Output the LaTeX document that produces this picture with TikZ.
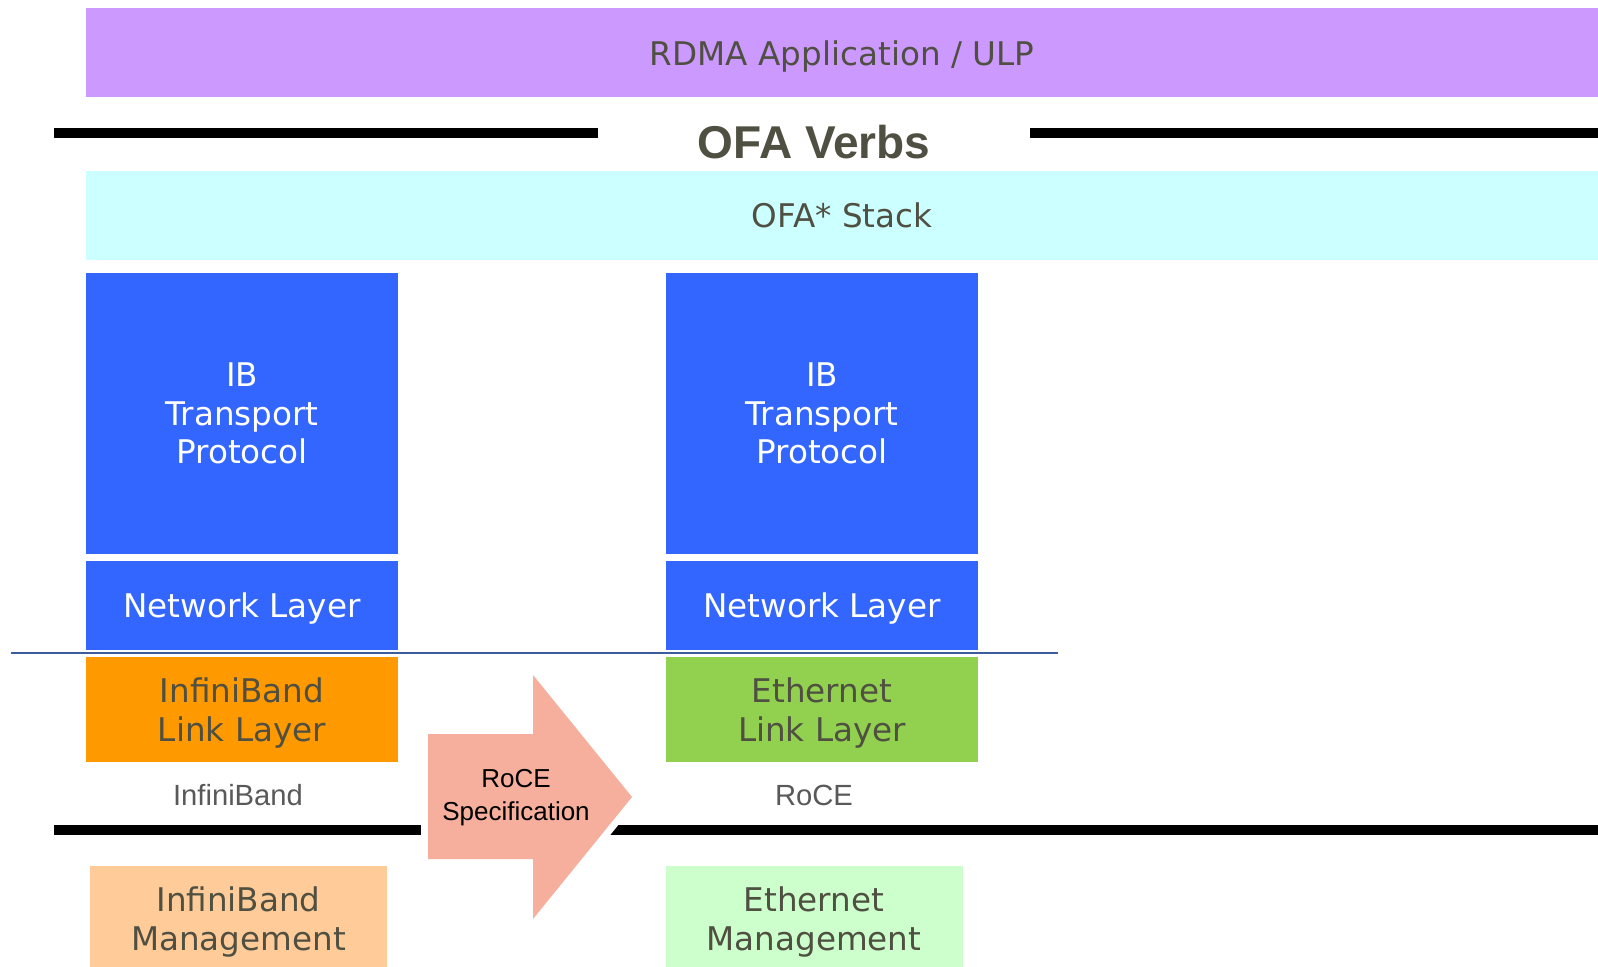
\documentclass[tikz,border=0pt]{standalone}
\usepackage{fontspec}
\usepackage{xcolor}
\usepackage{tikz}
\usetikzlibrary{positioning}

\setmainfont{DejaVu Sans}
\newfontfamily\arialfont{Liberation Sans}

\definecolor{ulpcol}{HTML}{CC99FF}
\definecolor{stackcol}{HTML}{CCFFFF}
\definecolor{ibblue}{HTML}{3366FF}
\definecolor{iblinkcol}{HTML}{FF9900}
\definecolor{ethlinkcol}{HTML}{92D050}
\definecolor{ibmgmtcol}{HTML}{FFCC99}
\definecolor{ethmgmtcol}{HTML}{CCFFCC}
\definecolor{speccol}{HTML}{F5AF9C}
\definecolor{txt}{HTML}{4F4F42}
\definecolor{sepcol}{HTML}{3D5C9C}

\begin{document}
\begin{tikzpicture}[x=0.5pt,y=-0.5pt,node distance=96pt]
	\tikzstyle{layer}=[rectangle, inner sep=0pt, align=center, text=txt, text depth=0pt,
		font=\fontsize{16.3}{19.3}\selectfont]
	\tikzstyle{wide}=[layer, minimum width=756pt, minimum height=44.5pt]
	\tikzstyle{proto}=[layer, fill=ibblue, text=white, minimum width=156pt]
	\tikzstyle{link}=[layer, minimum width=156pt, minimum height=52.5pt]
	\tikzstyle{mgmt}=[layer, minimum width=148.5pt, minimum height=52.5pt]
	\tikzstyle{tag}=[font=\arialfont\fontsize{14.6}{17}\selectfont, text=black!65]
	\tikzstyle{bar}=[line width=5pt]
	\useasboundingbox (0,0) rectangle (1598,967);

	% top of the stack
	\node[wide, fill=ulpcol] (ulp) at (842,53) {RDMA Application / ULP};
	\node[font=\arialfont\bfseries\fontsize{23}{27}\selectfont, text=txt] (verbs) at (814,142.5) {OFA Verbs};
	\node[wide, fill=stackcol] (stack) at (842,215.5) {OFA* Stack};
	\draw[bar] (54,133.5) -- (598,133.5);
	\draw[bar] (1030,133.5) -- (1598,133.5);

	% InfiniBand column
	\node[proto, minimum height=140.5pt] (ibtp) at (242,413.5) {IB\\Transport\\Protocol};
	\node[proto, minimum height=44.5pt] (ibnet) [below of=ibtp] {Network Layer};
	\node[link, fill=iblinkcol] (iblink) [below of=ibnet, node distance=52pt] {InfiniBand\\Link Layer};
	\node[tag] (ibtag) at (238,795) {InfiniBand};
	\node[mgmt, fill=ibmgmtcol] (ibmgmt) at (238.5,918.5) {InfiniBand\\Management};

	% RoCE column
	\node[proto, minimum height=140.5pt] (rotp) at (822,413.5) {IB\\Transport\\Protocol};
	\node[proto, minimum height=44.5pt] (ronet) [below of=rotp] {Network Layer};
	\node[link, fill=ethlinkcol] (ethlink) [below of=ronet, node distance=52pt] {Ethernet\\Link Layer};
	\node[tag] (rotag) at (814,795) {RoCE};
	\node[mgmt, fill=ethmgmtcol] (ethmgmt) at (814,918.5) {Ethernet\\Management};

	% link / network boundary and management bar
	\draw[sepcol, line width=1.2pt] (11,653) -- (1058,653);
	\draw[bar] (54,830) -- (1598,830);

	% spec arrow
	\fill[speccol, preaction={draw=white, line width=7pt, line join=round}]
		(428,734) -- (533,734) -- (533,675) -- (632,797) -- (533,919) -- (533,859) -- (428,859) -- cycle;
	\node[font=\arialfont\fontsize{13}{16.3}\selectfont, align=center] (spec) at (516,797.5) {RoCE\\Specification};
\end{tikzpicture}
\end{document}
